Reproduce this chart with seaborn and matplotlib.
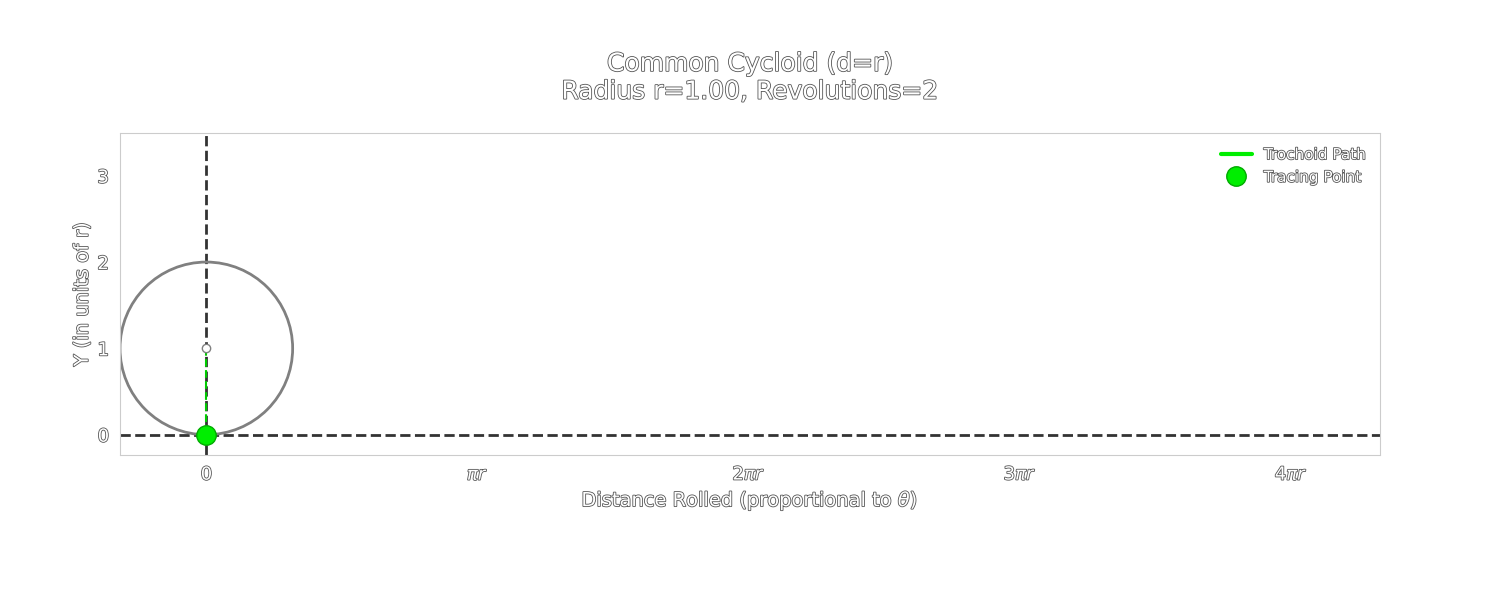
import matplotlib
matplotlib.use("Agg")
import matplotlib.pyplot as plt
import matplotlib.patheffects as pe
import numpy as np
import seaborn as sns

sns.set_style("white")
plt.rcParams['font.family'] = ['DejaVu Sans']

r = 1.0
d = 1.0
revolutions = 2
theta_now = 0.0
path_theta = [0.0]
xtick_vals = [0, np.pi, 2*np.pi, 3*np.pi, 4*np.pi]
xtick_labels = ["0", r"$\pi r$", r"$2\pi r$", r"$3\pi r$", r"$4\pi r$"]
ytick_vals = [0, 1, 2, 3]

txt = "white"
outline = [pe.withStroke(linewidth=1.2, foreground="#555555")]
fig, ax = plt.subplots(figsize=(15, 6), dpi=100)
fig.patch.set_alpha(0)
ax.patch.set_alpha(0)

px = r*np.array(path_theta) - d*np.sin(path_theta)
py = r - d*np.cos(path_theta)
sns.lineplot(x=px, y=py, ax=ax, color="#00ee00", lw=3, label="Trochoid Path")

ax.axhline(0, color="#333333", ls="--", lw=2, zorder=1)
ax.axvline(0, color="#333333", ls="--", lw=2, zorder=1)

cx, cy = r*theta_now, r
ax.add_patch(plt.Circle((cx, cy), r, fill=False, ec="gray", lw=2, zorder=2))
tx = r*theta_now - d*np.sin(theta_now)
ty = r - d*np.cos(theta_now)
ax.plot([cx, tx], [cy, ty], '--', color="#00cc00", lw=1.5, zorder=3)
ax.plot([cx], [cy], 'o', mfc="white", mec="gray", ms=6, zorder=4)
ax.plot([tx], [ty], 'o', color="#00ee00", mec="#00aa00", ms=14, label="Tracing Point",
        ls="none", zorder=5)

ax.set_xlim(-1.0, 4*np.pi + 1.03)
ax.set_ylim(-0.23, 3.49)
ax.set_aspect("equal")
ax.set_xticks(xtick_vals, xtick_labels)
ax.set_yticks(ytick_vals)
ax.tick_params(colors=txt, labelsize=13, length=0, pad=8)
for lab in ax.get_xticklabels() + ax.get_yticklabels():
    lab.set_path_effects(outline)
for s in ax.spines.values():
    s.set_color("#cccccc")
ax.set_xlabel(r"Distance Rolled (proportional to $\theta$)", color=txt, fontsize=14,
              path_effects=outline)
ax.set_ylabel("Y (in units of r)", color=txt, fontsize=14, path_effects=outline)
ax.set_title(f"Common Cycloid (d=r)\nRadius r={r:.2f}, Revolutions={revolutions}",
             color=txt, fontsize=18, pad=25, path_effects=outline)
leg = ax.legend(loc="upper right", fontsize=11, framealpha=0, edgecolor="#555555",
                fancybox=True)
leg.get_frame().set_linewidth(1.2)
for t in leg.get_texts():
    t.set_color(txt)
    t.set_path_effects(outline)

fig.subplots_adjust(left=0.08, right=0.92, top=0.78, bottom=0.24)
fig.savefig("out.png", transparent=True)
